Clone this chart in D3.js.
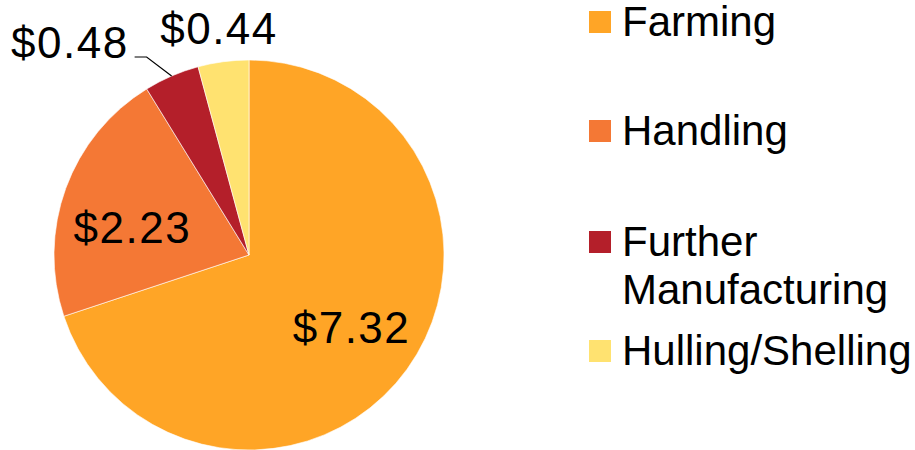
<!DOCTYPE html>
<html>
<head>
<meta charset="utf-8">
<script src="https://cdn.jsdelivr.net/npm/d3@7"></script>
<style>
  html, body { margin: 0; padding: 0; background: #fff; }
  svg { display: block; font-family: "Liberation Sans", Arial, sans-serif; }
</style>
</head>
<body>
<svg id="chart" width="915" height="450"></svg>
<script>
const categories = ["Farming", "Handling", "Further Manufacturing", "Hulling/Shelling"];
const legendLines = [["Farming"], ["Handling"], ["Further", "Manufacturing"], ["Hulling/Shelling"]];
const values = [7.32, 2.23, 0.48, 0.44];
const valueLabels = ["$7.32", "$2.23", "$0.48", "$0.44"];
const colors = ["#FFA526", "#F47835", "#B41F2A", "#FFE270"];

const svg = d3.select("#chart");
const cx = 249, cy = 255, R = 195;

const color = d3.scaleOrdinal().domain(categories).range(colors);
const pie = d3.pie().sort(null).value(d => d.value);
const data = categories.map((c, i) => ({ cat: c, value: values[i], label: valueLabels[i] }));
const arcs = pie(data);
const arc = d3.arc().innerRadius(0).outerRadius(R);

const g = svg.append("g").attr("transform", `translate(${cx},${cy})`);
g.selectAll("path.slice").data(arcs).enter().append("path")
  .attr("class", "slice")
  .attr("d", arc)
  .attr("fill", d => color(d.data.cat))
  .attr("stroke", "#fff").attr("stroke-width", 0.6);

const fs = 44;
const labelCfg = [
  { r: 124, dx: 2, dy: 0 },
  { r: 121, dx: -3, dy: 14 },
  null,
  { r: 228, dx: 0, dy: 0 }
];
function pt(angle, r) { return [r * Math.sin(angle), -r * Math.cos(angle)]; }

arcs.forEach((a, i) => {
  const mid = (a.startAngle + a.endAngle) / 2;
  const cfg = labelCfg[i];
  if (cfg) {
    const [x, y] = pt(mid, cfg.r);
    g.append("text")
      .attr("x", x + cfg.dx).attr("y", y + cfg.dy + 15)
      .attr("text-anchor", "middle")
      .attr("font-size", fs).attr("letter-spacing", 1.5)
      .attr("fill", "#000")
      .text(a.data.label);
  } else {
    const p0 = pt(mid, R);
    const p1 = [p0[0] - 25, p0[1] - 19];
    const p2 = [p1[0] - 12, p1[1]];
    g.append("polyline")
      .attr("points", [p0, p1, p2].map(p => p.join(",")).join(" "))
      .attr("fill", "none").attr("stroke", "#000").attr("stroke-width", 1.2);
    g.append("text")
      .attr("x", p2[0] - 6).attr("y", p2[1] + 1)
      .attr("text-anchor", "end")
      .attr("font-size", fs).attr("letter-spacing", 1.5)
      .attr("fill", "#000")
      .text(a.data.label);
  }
});

// legend
const legendY = [36, 145, 256, 365];
const leg = svg.append("g");
categories.forEach((c, i) => {
  const y = legendY[i];
  leg.append("rect")
    .attr("x", 589).attr("y", y - 25).attr("width", 22).attr("height", 22)
    .attr("fill", color(c));
  const t = leg.append("text")
    .attr("x", 622).attr("y", y)
    .attr("font-size", 42).attr("fill", "#000");
  legendLines[i].forEach((ln, j) => {
    t.append("tspan").attr("x", 622).attr("dy", j === 0 ? 0 : 48).text(ln);
  });
});
</script>
</body>
</html>
